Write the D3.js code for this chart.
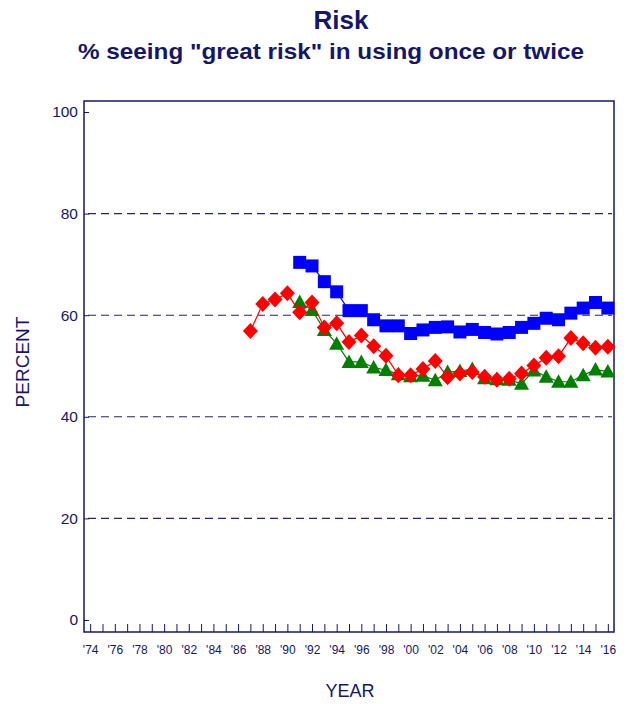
<!DOCTYPE html>
<html>
<head>
<meta charset="utf-8">
<script src="https://cdn.jsdelivr.net/npm/d3@7"></script>
<style>
  body { margin: 0; background: #fff; }
  svg { display: block; font-family: "Liberation Sans", Arial, sans-serif; }
</style>
</head>
<body>
<div id="chart"></div>
<script>
// series values
const blueYears = d3.range(1991, 2017);
const blueValues = [70.4, 69.7, 66.6, 64.6, 60.9, 60.9, 59.1, 57.9, 57.9, 56.4,
  57.1, 57.6, 57.7, 56.7, 57.2, 56.6, 56.3, 56.6, 57.6, 58.4,
  59.4, 59.1, 60.4, 61.4, 62.5, 61.4];

const redYears = d3.range(1987, 2017);
const redValues = [56.9, 62.2, 63.1, 64.3, 60.6, 62.5, 57.6, 58.4, 54.7, 56.0,
  53.9, 52.0, 48.2, 48.2, 49.4, 51.0, 47.8, 48.5, 48.8, 47.9,
  47.3, 47.5, 48.5, 50.1, 51.6, 51.9, 55.5, 54.5, 53.6, 53.8];

const greenYears = d3.range(1991, 2017);
const greenValues = [62.6, 61.0, 57.1, 54.4, 50.8, 50.8, 49.7, 49.2, 48.4, 48.0,
  48.1, 47.2, 48.8, 49.0, 49.4, 47.6, 47.4, 47.3, 46.5, 49.1,
  47.9, 46.9, 46.9, 48.2, 49.3, 48.9];

const yearTicks = d3.range(1974, 2017);
const percentTicks = [0, 20, 40, 60, 80, 100];
const gridValues = [20, 40, 60, 80];

const navy = "#161668";
const blue = "#0000ff";
const red = "#ff0000";
const green = "#008000";

const width = 628;
const height = 704;
const frameLeft = 84, frameRight = 614, frameTop = 101, frameBottom = 632;

const x = d3.scaleLinear()
  .domain([1973.5, 2016.5])
  .range([frameLeft, frameRight]);

const y = d3.scaleLinear()
  .domain([0, 100])
  .range([620, 112]);

const svg = d3.select("#chart").append("svg")
  .attr("width", width)
  .attr("height", height);

// titles
svg.append("text")
  .attr("x", 341).attr("y", 29)
  .attr("text-anchor", "middle")
  .attr("fill", navy)
  .style("font-size", "26px").style("font-weight", "bold")
  .text("Risk");

svg.append("text")
  .attr("x", 331).attr("y", 59)
  .attr("text-anchor", "middle")
  .attr("fill", navy)
  .attr("textLength", 506)
  .attr("lengthAdjust", "spacingAndGlyphs")
  .style("font-size", "22px").style("font-weight", "bold")
  .text("% seeing \"great risk\" in using once or twice");

// grid
svg.append("g")
  .selectAll("line")
  .data(gridValues)
  .join("line")
    .attr("x1", frameLeft + 4).attr("x2", frameRight - 2)
    .attr("y1", d => y(d)).attr("y2", d => y(d))
    .attr("stroke", "#24246a")
    .attr("stroke-width", 1.1)
    .attr("stroke-dasharray", "8,5");

// axes
const xAxis = svg.append("g")
  .attr("transform", `translate(0,${frameBottom})`)
  .call(d3.axisBottom(x)
    .tickValues(yearTicks)
    .tickSize(-8)
    .tickPadding(13)
    .tickFormat(d => d % 2 === 0 ? "'" + String(d).slice(2) : ""));
xAxis.select(".domain").remove();
xAxis.selectAll("line").attr("stroke", navy);
xAxis.selectAll("text")
  .attr("fill", navy)
  .style("font-size", "12px")
  .style("font-family", "Liberation Sans, Arial, sans-serif");

const yAxis = svg.append("g")
  .attr("transform", `translate(${frameLeft},0)`)
  .call(d3.axisLeft(y)
    .tickValues(percentTicks)
    .tickSize(-5)
    .tickPadding(6));
yAxis.select(".domain").remove();
yAxis.selectAll("line").attr("stroke", navy);
yAxis.selectAll("text")
  .attr("fill", navy)
  .style("font-size", "15.5px")
  .style("font-family", "Liberation Sans, Arial, sans-serif");

// frame
svg.append("rect")
  .attr("x", frameLeft).attr("y", frameTop)
  .attr("width", frameRight - frameLeft)
  .attr("height", frameBottom - frameTop)
  .attr("fill", "none")
  .attr("stroke", navy)
  .attr("stroke-width", 1.5);

// axis titles
svg.append("text")
  .attr("transform", "translate(29,362) rotate(-90)")
  .attr("text-anchor", "middle")
  .attr("fill", navy)
  .style("font-size", "19px")
  .text("PERCENT");

svg.append("text")
  .attr("x", 350).attr("y", 697)
  .attr("text-anchor", "middle")
  .attr("fill", navy)
  .style("font-size", "18px")
  .text("YEAR");

// series
const line = d3.line(d => x(d[0]), d => y(d[1]));

const squarePath = "M-6.5,-6.5H6.5V6.5H-6.5Z";
const diamondPath = "M0,-8L7.5,0L0,8L-7.5,0Z";
const trianglePath = "M0,-7.5L7.5,6L-7.5,6Z";

function drawSeries(years, values, color, shape) {
  const pts = d3.zip(years, values);
  svg.append("path")
    .attr("d", line(pts))
    .attr("fill", "none")
    .attr("stroke", color)
    .attr("stroke-width", 1.2);
  svg.append("g")
    .selectAll("path")
    .data(pts)
    .join("path")
      .attr("transform", d => `translate(${x(d[0])},${y(d[1])})`)
      .attr("d", shape)
      .attr("fill", color);
}

drawSeries(blueYears, blueValues, blue, squarePath);
drawSeries(greenYears, greenValues, green, trianglePath);
drawSeries(redYears, redValues, red, diamondPath);
</script>
</body>
</html>
